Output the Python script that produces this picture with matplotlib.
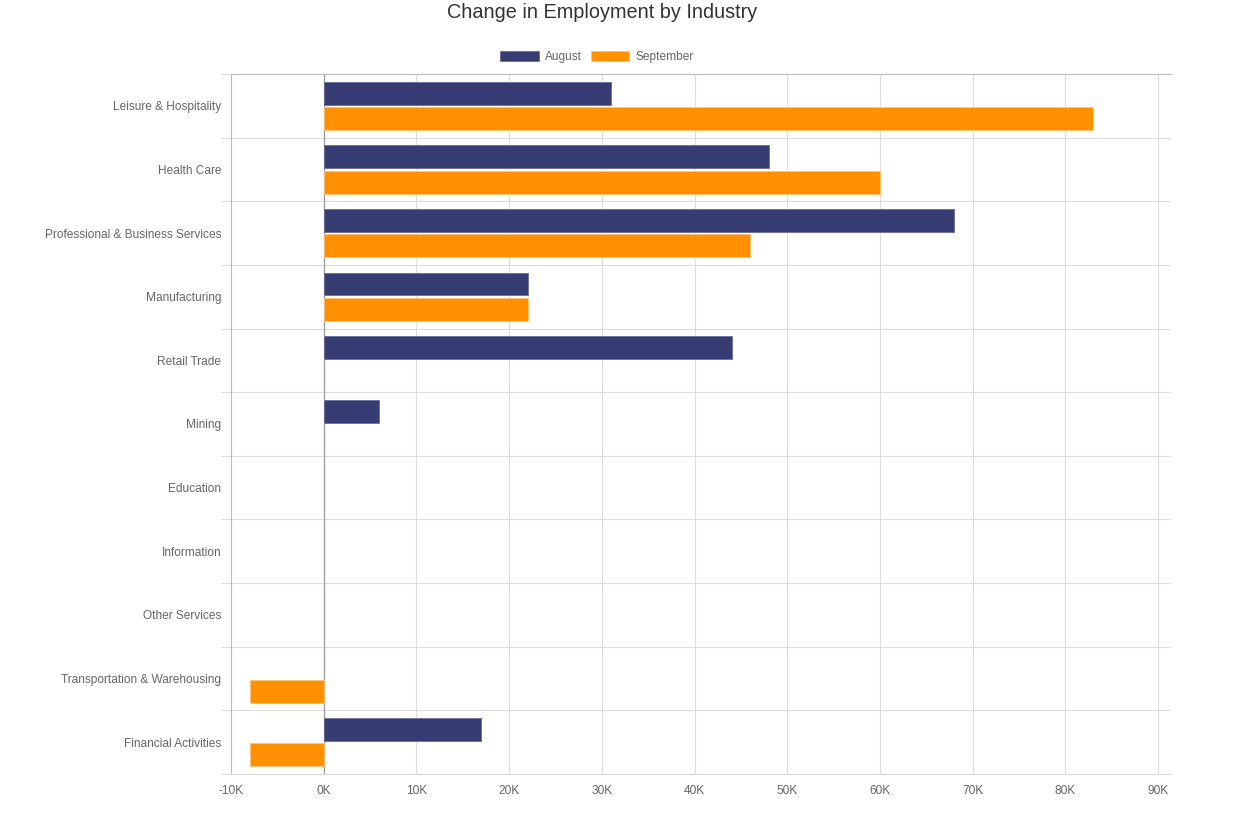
import numpy as np
import matplotlib.pyplot as plt
from matplotlib.ticker import FuncFormatter

plt.rcParams['font.family'] = ['Liberation Sans', 'DejaVu Sans']

# data
industries = ['Leisure & Hospitality', 'Health Care', 'Professional & Business Services',
              'Manufacturing', 'Retail Trade', 'Mining', 'Education', 'Information',
              'Other Services', 'Transportation & Warehousing', 'Financial Activities']
august = [31000, 48000, 68000, 22000, 44000, 6000, 0, 0, 0, 0, 17000]
september = [83000, 60000, 46000, 22000, 0, 0, 0, 0, 0, -8000, -8000]
xticks = list(range(-10000, 90001, 10000))

navy = '#373c72'
orange = '#ff9100'
grid_col = '#dddddd'
text_col = '#666666'

fig = plt.figure(figsize=(12.55, 8.17), dpi=100)
ax = fig.add_axes([231/1255, 1 - 774/817, (1171-231)/1255, (774-74)/817])

y = np.arange(len(industries))
h = 0.36
# no outline on empty bars
lw_aug = [0.6 if v else 0 for v in august]
lw_sep = [0.6 if v else 0 for v in september]
ax.barh(y - 0.2, august, height=h, color=navy, edgecolor='#6a6e9a', linewidth=lw_aug, label='August', zorder=3)
ax.barh(y + 0.2, september, height=h, color=orange, edgecolor='#ffc27a', linewidth=lw_sep, label='September', zorder=3)

ax.set_ylim(len(industries) - 0.5, -0.5)
ax.set_xlim(-10000, 91400)

ax.set_yticks(y)
ax.set_yticklabels(industries)
ax.set_yticks(np.arange(-0.5, len(industries), 1), minor=True)
ax.tick_params(axis='y', which='major', length=0, pad=7, labelsize=8.6, labelcolor=text_col)
ax.tick_params(axis='y', which='minor', length=7, color=grid_col, width=0.8)

ax.set_xticks(xticks)
ax.xaxis.set_major_formatter(FuncFormatter(lambda v, p: '%dK' % round(v / 1000)))
ax.tick_params(axis='x', length=0, pad=8, labelsize=8.6, labelcolor=text_col)

ax.grid(True, axis='x', color=grid_col, linewidth=0.8, zorder=0)
ax.grid(True, axis='y', which='minor', color=grid_col, linewidth=0.8, zorder=0)
ax.axvline(0, color='#999999', linewidth=0.9, zorder=2)

ax.spines['right'].set_visible(False)
ax.spines['left'].set_color('#bbbbbb')
ax.spines['top'].set_color('#bbbbbb')
ax.spines['bottom'].set_color(grid_col)
ax.set_axisbelow(True)

fig.suptitle('Change in Employment by Industry', x=602/1255, y=1 - 13/817, va='center',
             fontsize=14.3, color='#333333')
fig.legend(loc='center', bbox_to_anchor=(597/1255, 1 - 57/817), ncol=2, frameon=False,
           handlelength=3.2, handleheight=0.95, handletextpad=0.5, columnspacing=0.8,
           fontsize=8.6, labelcolor=text_col)

fig.savefig('out.png', dpi=100)
